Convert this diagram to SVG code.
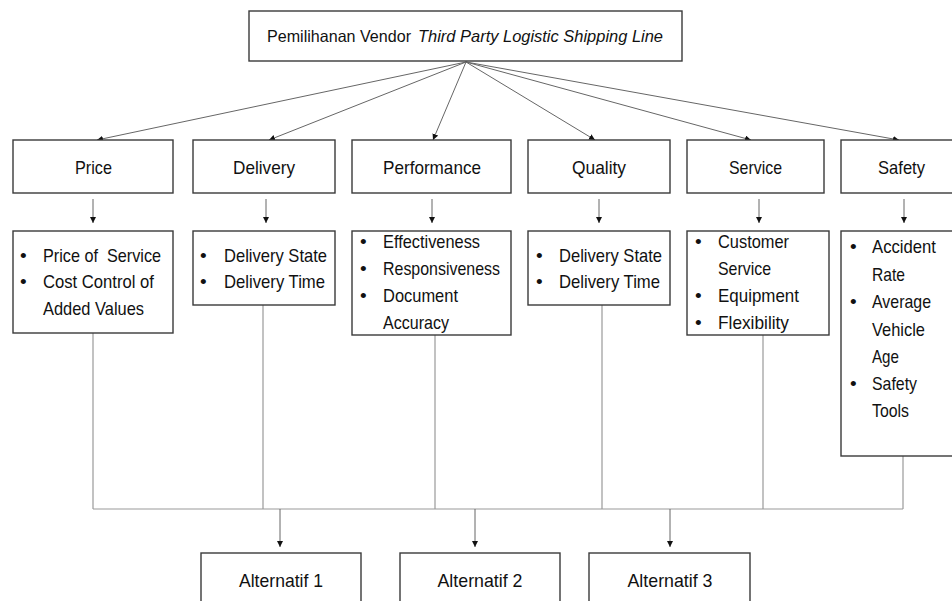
<svg xmlns="http://www.w3.org/2000/svg" width="952" height="601" viewBox="0 0 952 601">
<defs>
<marker id="ah" viewBox="0 0 10 10" refX="10" refY="5" markerWidth="6" markerHeight="6" markerUnits="userSpaceOnUse" orient="auto">
<path d="M0,0 L10,5 L0,10 z" fill="#111"/>
</marker>
<style>
.box{fill:#fff;stroke:#3a3a3a;stroke-width:1.4}
.t{font-family:"Liberation Sans",Arial,sans-serif;font-size:19px;fill:#111}
.ttl{font-size:16.5px}
.c{text-anchor:middle}
.i{font-style:italic}
.arr{stroke:#666;stroke-width:1;fill:none;marker-end:url(#ah)}
.ln{stroke:#999;stroke-width:1.2;fill:none}
</style>
</defs>
<rect width="952" height="601" fill="#fff"/>

<g id="connectors">
<line class="arr" x1="466" y1="62" x2="97" y2="140"/>
<line class="arr" x1="466" y1="62" x2="269" y2="140"/>
<line class="arr" x1="466" y1="62" x2="433" y2="140"/>
<line class="arr" x1="466" y1="62" x2="595" y2="140"/>
<line class="arr" x1="466" y1="62" x2="751" y2="140"/>
<line class="arr" x1="466" y1="62" x2="899" y2="140"/>

<line class="arr" x1="93" y1="199" x2="93" y2="223"/>
<line class="arr" x1="266" y1="199" x2="266" y2="223"/>
<line class="arr" x1="432" y1="199" x2="432" y2="223"/>
<line class="arr" x1="599" y1="199" x2="599" y2="223"/>
<line class="arr" x1="759" y1="199" x2="759" y2="223"/>
<line class="arr" x1="904" y1="199" x2="904" y2="223"/>

<line class="ln" x1="93" y1="333" x2="93" y2="509"/>
<line class="ln" x1="263" y1="305" x2="263" y2="509"/>
<line class="ln" x1="435" y1="335" x2="435" y2="509"/>
<line class="ln" x1="602" y1="305" x2="602" y2="509"/>
<line class="ln" x1="763" y1="335" x2="763" y2="509"/>
<line class="ln" x1="903" y1="456" x2="903" y2="509"/>
<line class="ln" x1="93" y1="509" x2="903" y2="509"/>

<line class="arr" x1="280" y1="509" x2="280" y2="547"/>
<line class="arr" x1="475" y1="509" x2="475" y2="547"/>
<line class="arr" x1="670" y1="509" x2="670" y2="547"/>
</g>

<g id="goal">
<rect class="box" x="249" y="11" width="433" height="50"/>
<text class="t ttl" x="267" y="42" textLength="144" lengthAdjust="spacingAndGlyphs">Pemilihanan Vendor</text>
<text class="t ttl i" x="418" y="42" textLength="245" lengthAdjust="spacingAndGlyphs">Third Party Logistic Shipping Line</text>
</g>

<g id="price">
<rect class="box" x="13" y="140" width="160" height="53"/>
<text class="t c" x="93.5" y="174" textLength="37" lengthAdjust="spacingAndGlyphs">Price</text>
</g>
<g id="delivery">
<rect class="box" x="193" y="140" width="142" height="53"/>
<text class="t c" x="264" y="174" textLength="62" lengthAdjust="spacingAndGlyphs">Delivery</text>
</g>
<g id="performance">
<rect class="box" x="352" y="140" width="159" height="53"/>
<text class="t c" x="432" y="174" textLength="98" lengthAdjust="spacingAndGlyphs">Performance</text>
</g>
<g id="quality">
<rect class="box" x="528" y="140" width="142" height="53"/>
<text class="t c" x="599" y="174" textLength="54" lengthAdjust="spacingAndGlyphs">Quality</text>
</g>
<g id="service">
<rect class="box" x="687" y="140" width="137" height="53"/>
<text class="t c" x="755.5" y="174" textLength="53" lengthAdjust="spacingAndGlyphs">Service</text>
</g>
<g id="safety">
<rect class="box" x="841" y="140" width="125" height="53"/>
<text class="t c" x="901.5" y="174" textLength="47" lengthAdjust="spacingAndGlyphs">Safety</text>
</g>

<g id="price-criteria">
<rect class="box" x="13" y="231" width="160" height="102"/>
<text class="t" x="20" y="262">•</text>
<text class="t" x="43" y="262" textLength="118" lengthAdjust="spacingAndGlyphs" xml:space="preserve">Price of  Service</text>
<text class="t" x="20" y="288">•</text>
<text class="t" x="43" y="288" textLength="111" lengthAdjust="spacingAndGlyphs">Cost Control of</text>
<text class="t" x="43" y="315" textLength="101" lengthAdjust="spacingAndGlyphs">Added Values</text>
</g>

<g id="delivery-criteria">
<rect class="box" x="193" y="231" width="142" height="74"/>
<text class="t" x="200" y="262">•</text>
<text class="t" x="224" y="262" textLength="103" lengthAdjust="spacingAndGlyphs">Delivery State</text>
<text class="t" x="200" y="288">•</text>
<text class="t" x="224" y="288" textLength="101" lengthAdjust="spacingAndGlyphs">Delivery Time</text>
</g>

<g id="performance-criteria">
<rect class="box" x="352" y="231" width="159" height="104"/>
<text class="t" x="360" y="248">•</text>
<text class="t" x="383" y="248" textLength="97" lengthAdjust="spacingAndGlyphs">Effectiveness</text>
<text class="t" x="360" y="275">•</text>
<text class="t" x="383" y="275" textLength="117" lengthAdjust="spacingAndGlyphs">Responsiveness</text>
<text class="t" x="360" y="302">•</text>
<text class="t" x="383" y="302" textLength="75" lengthAdjust="spacingAndGlyphs">Document</text>
<text class="t" x="383" y="329" textLength="66" lengthAdjust="spacingAndGlyphs">Accuracy</text>
</g>

<g id="quality-criteria">
<rect class="box" x="528" y="231" width="142" height="74"/>
<text class="t" x="536" y="262">•</text>
<text class="t" x="559" y="262" textLength="103" lengthAdjust="spacingAndGlyphs">Delivery State</text>
<text class="t" x="536" y="288">•</text>
<text class="t" x="559" y="288" textLength="101" lengthAdjust="spacingAndGlyphs">Delivery Time</text>
</g>

<g id="service-criteria">
<rect class="box" x="687" y="231" width="142" height="104"/>
<text class="t" x="695" y="248">•</text>
<text class="t" x="718" y="248" textLength="71" lengthAdjust="spacingAndGlyphs">Customer</text>
<text class="t" x="718" y="275" textLength="53" lengthAdjust="spacingAndGlyphs">Service</text>
<text class="t" x="695" y="302">•</text>
<text class="t" x="718" y="302" textLength="81" lengthAdjust="spacingAndGlyphs">Equipment</text>
<text class="t" x="695" y="329">•</text>
<text class="t" x="718" y="329" textLength="71" lengthAdjust="spacingAndGlyphs">Flexibility</text>
</g>

<g id="safety-criteria">
<rect class="box" x="841" y="231" width="125" height="225"/>
<text class="t" x="850" y="253">•</text>
<text class="t" x="872" y="253" textLength="64" lengthAdjust="spacingAndGlyphs">Accident</text>
<text class="t" x="872" y="281" textLength="33" lengthAdjust="spacingAndGlyphs">Rate</text>
<text class="t" x="850" y="308">•</text>
<text class="t" x="872" y="308" textLength="59" lengthAdjust="spacingAndGlyphs">Average</text>
<text class="t" x="872" y="336" textLength="53" lengthAdjust="spacingAndGlyphs">Vehicle</text>
<text class="t" x="872" y="363" textLength="27" lengthAdjust="spacingAndGlyphs">Age</text>
<text class="t" x="850" y="390">•</text>
<text class="t" x="872" y="390" textLength="45" lengthAdjust="spacingAndGlyphs">Safety</text>
<text class="t" x="872" y="417" textLength="37" lengthAdjust="spacingAndGlyphs">Tools</text>
</g>

<g id="alt1">
<rect class="box" x="201" y="553" width="160" height="60"/>
<text class="t c" x="281" y="587" textLength="84" lengthAdjust="spacingAndGlyphs">Alternatif 1</text>
</g>
<g id="alt2">
<rect class="box" x="400" y="553" width="160" height="60"/>
<text class="t c" x="480" y="587" textLength="85" lengthAdjust="spacingAndGlyphs">Alternatif 2</text>
</g>
<g id="alt3">
<rect class="box" x="589" y="553" width="161" height="60"/>
<text class="t c" x="670" y="587" textLength="85" lengthAdjust="spacingAndGlyphs">Alternatif 3</text>
</g>
</svg>
